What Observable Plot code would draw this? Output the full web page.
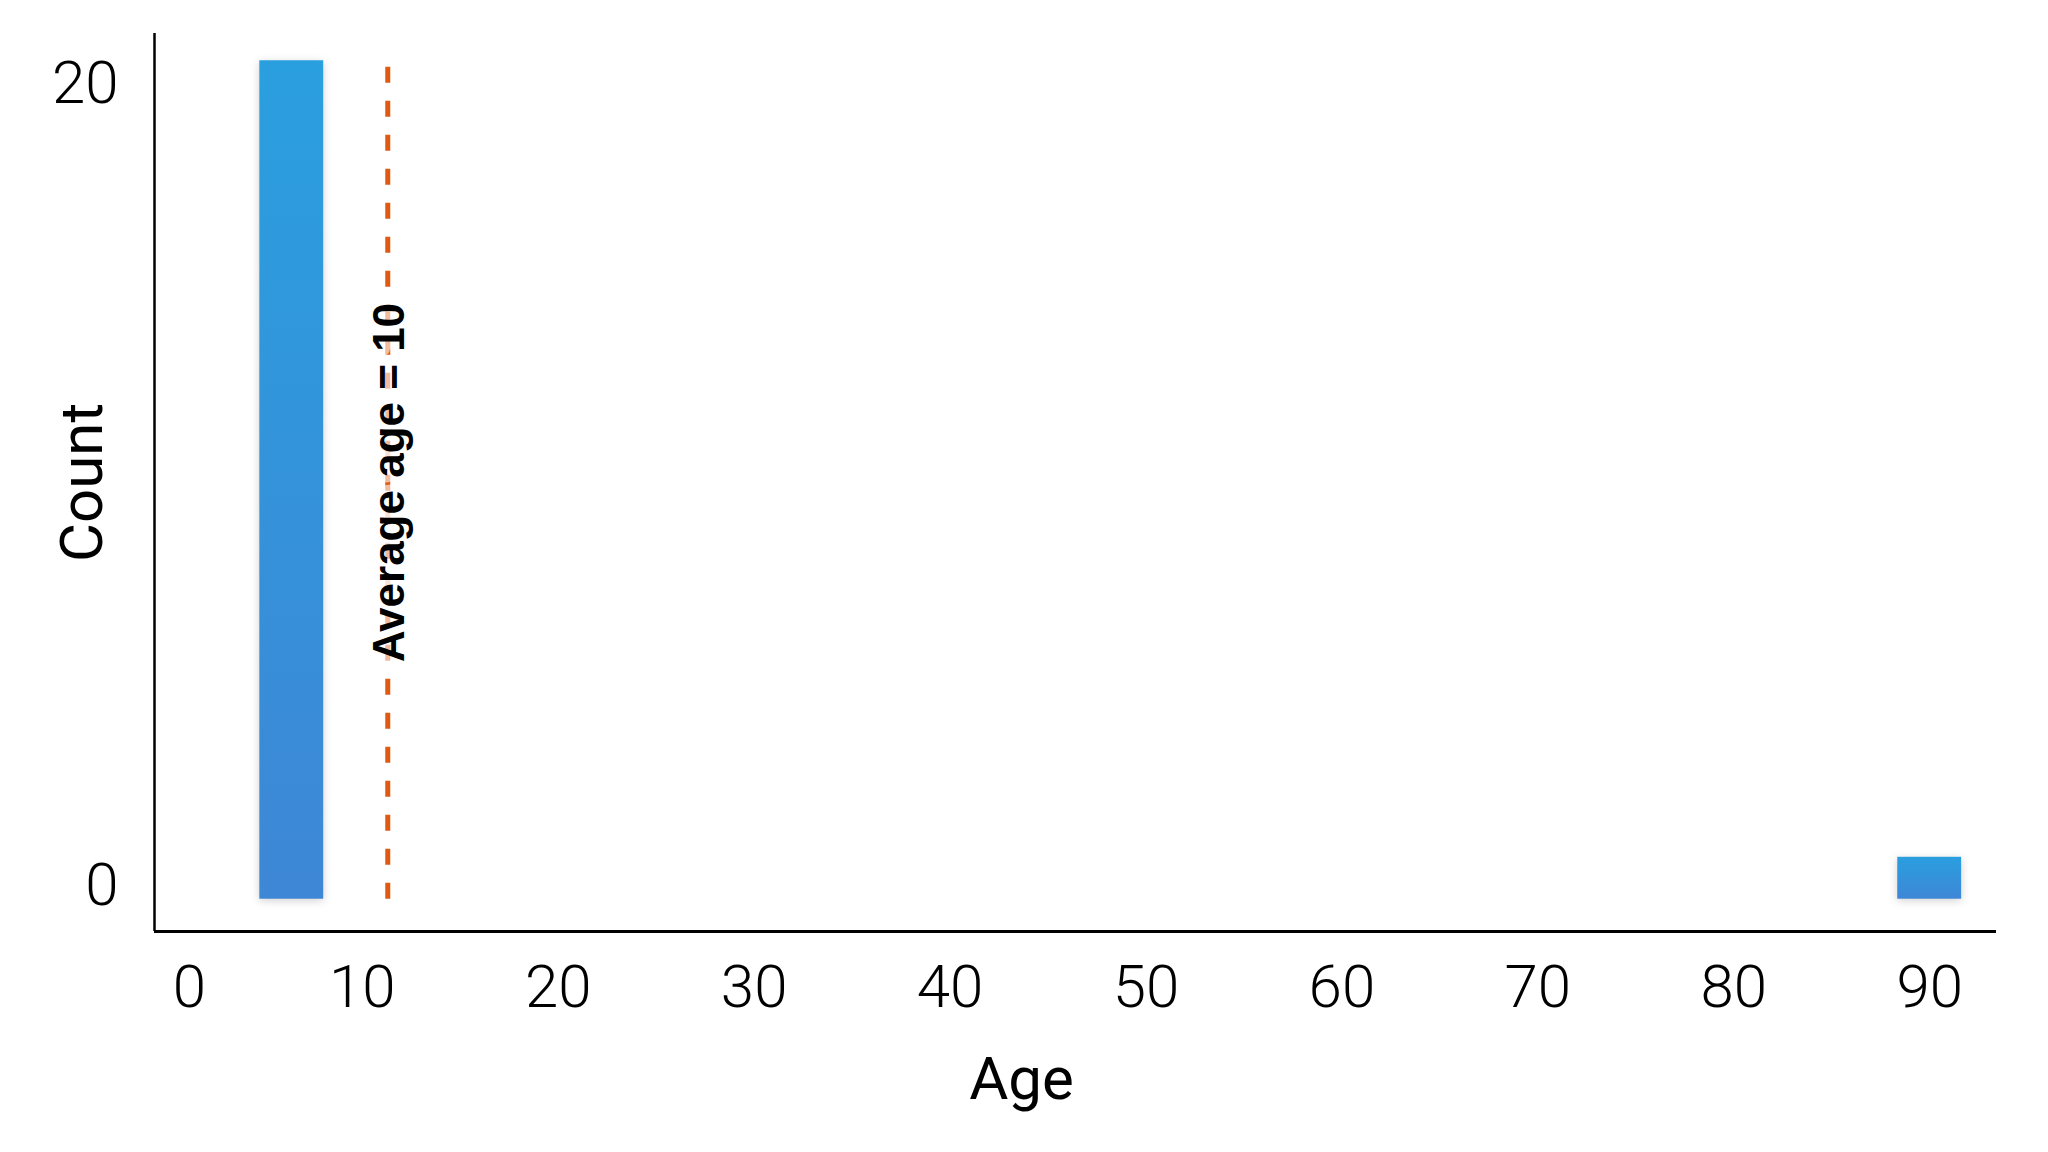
<!DOCTYPE html>
<html>
<head>
<meta charset="utf-8">
<script src="https://cdn.jsdelivr.net/npm/d3@7"></script>
<script src="https://cdn.jsdelivr.net/npm/@observablehq/plot@0.6"></script>
<style>
  html, body { margin: 0; padding: 0; background: #ffffff; }
  #chart svg { display: block; }
  #chart svg g[aria-label="x-axis tick label"] text,
  #chart svg g[aria-label="y-axis tick label"] text { font-weight: 300; }
  #chart svg g.bars { filter: drop-shadow(0px 2px 4px rgba(0,0,0,0.18)); }
  #chart svg g.avglabel text { font-weight: 700; }
</style>
</head>
<body>
<div id="chart"></div>
<script>
// --- data ---
const ages = [6.4, 90];          // bar centres (age)
const counts = [20, 1];          // bar heights (count)
const averageLineAge = 11.3;     // where the dotted average line sits
const averageLabel = "Average age = 10";
const xTickValues = [0, 10, 20, 30, 40, 50, 60, 70, 80, 90];
const yTickValues = [0, 20];
const xLabel = "Age";
const yLabel = "Count";

const bars = ages.map((a, i) => ({age: a, count: counts[i]}));
const halfBin = 1.63;
const xDomain = [-0.606, 93.41];
const yDomain = [-0.77, 20.65];

const chart = Plot.plot({
  width: 2048,
  height: 1152,
  marginLeft: 154,
  marginRight: 52,
  marginTop: 33,
  marginBottom: 221,
  x: {domain: xDomain},
  y: {domain: yDomain},
  style: {fontFamily: "Roboto, 'Helvetica Neue', sans-serif", fontSize: "60px", background: "#ffffff", color: "#000"},
  marks: [
    Plot.rectY(bars, {x1: d => d.age - halfBin, x2: d => d.age + halfBin, y1: 0, y2: "count", fill: "url(#barGrad)", className: "bars"}),
    Plot.ruleX([averageLineAge], {y1: 0, y2: 20, stroke: "#df5a10", strokeWidth: 5, strokeDasharray: "16,18"}),
    Plot.text([averageLabel], {
      x: averageLineAge, frameAnchor: "middle", rotate: -90, dx: 2,
      textAnchor: "middle", lineAnchor: "middle",
      fontSize: 44, fontWeight: "bold", fontFamily: "'Liberation Sans', Arial, sans-serif",
      fill: "#000", stroke: "#ffffff", strokeOpacity: 0.6, strokeWidth: 14, className: "avglabel"
    }),
    Plot.axisX({ticks: xTickValues.filter(t => t > 0), tickSize: 0, tickPadding: 33, label: null}),
    Plot.axisX({ticks: [0], tickSize: 0, tickPadding: 33, dx: 23, label: null}),
    Plot.axisY({ticks: [yTickValues[1]], tickSize: 0, tickPadding: 36, dy: 23, label: null}),
    Plot.axisY({ticks: [yTickValues[0]], tickSize: 0, tickPadding: 36, dy: -13, label: null}),
    Plot.ruleY([yDomain[0]], {stroke: "#000", strokeWidth: 3}),
    Plot.ruleX([xDomain[0]], {stroke: "#000", strokeWidth: 2.5}),
    Plot.text([yLabel], {frameAnchor: "left", dx: -72, rotate: -90, textAnchor: "middle", lineAnchor: "middle", fontSize: 60, fill: "#000"}),
    Plot.text([xLabel], {frameAnchor: "bottom", dx: -54, dy: 148, textAnchor: "middle", lineAnchor: "middle", fontSize: 60, fill: "#000"})
  ]
});

const ns = "http://www.w3.org/2000/svg";
const defs = document.createElementNS(ns, "defs");
const grad = document.createElementNS(ns, "linearGradient");
grad.setAttribute("id", "barGrad");
grad.setAttribute("x1", "0"); grad.setAttribute("y1", "0");
grad.setAttribute("x2", "0"); grad.setAttribute("y2", "1");
[["0%", "#2a9fdf"], ["100%", "#3e87d6"]].forEach(([o, c]) => {
  const s = document.createElementNS(ns, "stop");
  s.setAttribute("offset", o); s.setAttribute("stop-color", c);
  grad.appendChild(s);
});
defs.appendChild(grad);
chart.insertBefore(defs, chart.firstChild);

document.getElementById("chart").appendChild(chart);
</script>
</body>
</html>
